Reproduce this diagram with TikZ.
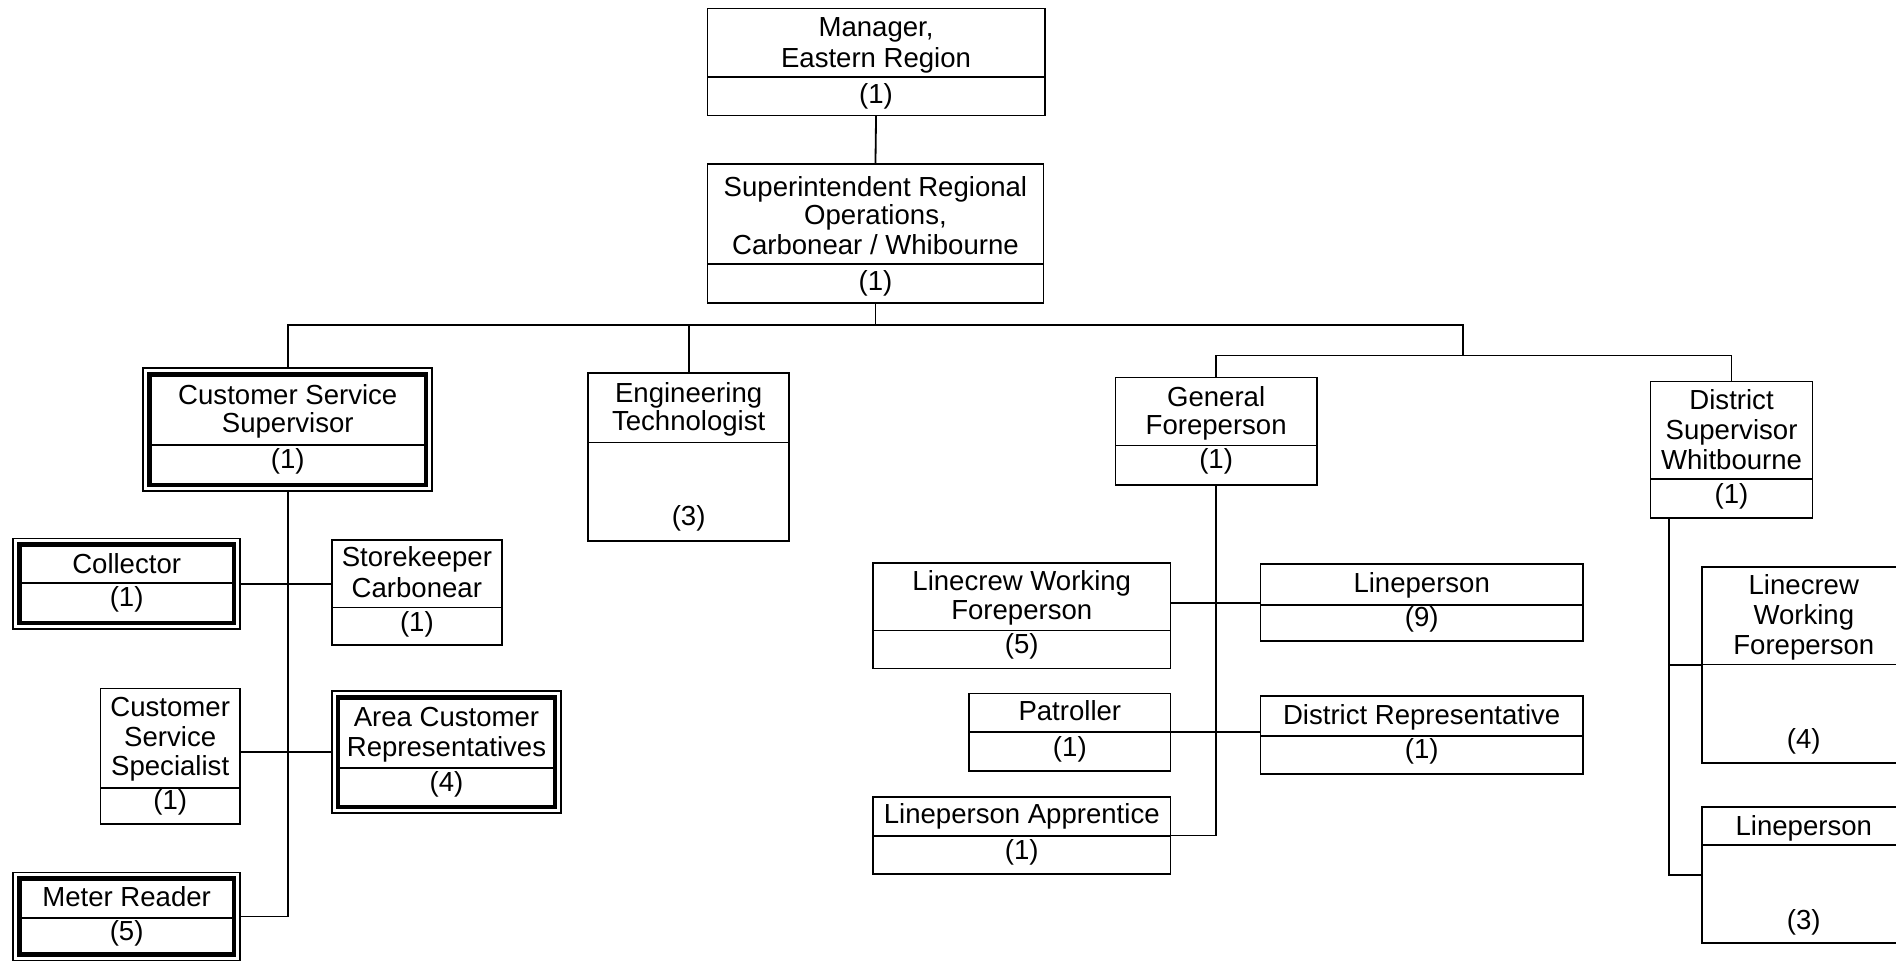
\documentclass[tikz,border=0pt]{standalone}
\usepackage{fontspec}
\setmainfont{Liberation Sans}
\newcounter{txc}
\tikzset{
  box/.style={draw, line width=1.4pt, rectangle, inner sep=0pt, outer sep=0pt},
  thickframe/.style={line width=3.6pt},
  divider/.style={line width=1.4pt},
  conn/.style={line width=1.5pt},
  txt/.style={anchor=base, inner sep=0pt, font=\fontsize{22.8}{24.3}\selectfont},
}
% name x1 y1 x2 y2 ydiv
\newcommand\obox[6]{%
  \pgfmathsetmacro\obW{#4-#2}\pgfmathsetmacro\obH{#5-#3}%
  \pgfmathsetmacro\obX{(#2+#4)/2}\pgfmathsetmacro\obY{(#3+#5)/2}%
  \node[box, minimum width=\obW pt, minimum height=\obH pt] (#1) at (\obX,\obY) {};
  \draw[divider] (#2,#6) -- (#4,#6);}
\newcommand\dbox[6]{%
  \pgfmathsetmacro\obW{#4-#2}\pgfmathsetmacro\obH{#5-#3}%
  \pgfmathsetmacro\obX{(#2+#4)/2}\pgfmathsetmacro\obY{(#3+#5)/2}%
  \node[box, minimum width=\obW pt, minimum height=\obH pt] (#1) at (\obX,\obY) {};
  \pgfmathsetmacro\obA{#2+5}\pgfmathsetmacro\obB{#3+5}%
  \pgfmathsetmacro\obC{#4-5}\pgfmathsetmacro\obD{#5-5}%
  \draw[thickframe] (\obA,\obB) rectangle (\obC,\obD);
  \draw[divider] (\obA,#6) -- (\obC,#6);}
\newcommand\tx[3]{\stepcounter{txc}\edef\txname{tx\arabic{txc}}\node[txt] (\txname) at (#1,#2) {#3};}
\begin{document}
\begin{tikzpicture}[x=1pt,y=-1pt]
\fill[white] (0,0) rectangle (1568,796);
\clip (0,0) rectangle (1568,796);
% boxes
\obox{mgr}{585}{6.9}{864}{95.6}{63.9}
\obox{sup}{585}{135.9}{863}{250.3}{218.6}
\dbox{css}{118.5}{304.6}{357.5}{406.3}{368}
\obox{eng}{486.5}{308.2}{652.5}{447.2}{366}
\obox{gf}{922.5}{312.3}{1089}{401.3}{368.5}
\obox{ds}{1365}{315.6}{1499}{428.3}{396}
\dbox{col}{11}{445.3}{198.5}{520.3}{482.4}
\obox{stk}{274.5}{446.7}{415}{533.3}{502.5}
\obox{csp}{83}{569.5}{198.5}{681.6}{651.4}
\dbox{acr}{274.5}{571.7}{464}{672.6}{634.9}
\dbox{mtr}{11}{721.5}{198.5}{794.3}{759.4}
\obox{lwf}{722}{465.4}{968}{552.8}{521.4}
\obox{lpn}{1042.5}{466.7}{1309}{530}{500.5}
\obox{pat}{801.5}{573.4}{968}{637.7}{605.3}
\obox{dr}{1042.5}{575.8}{1309}{639.9}{608.8}
\obox{lpa}{722}{659}{968}{722.9}{691.5}
\obox{lwfr}{1407.5}{468.7}{1576}{630.8}{549.5}
\obox{lpr}{1407.5}{667.4}{1576}{780}{699}
% texts
\tx{724.5}{30}{Manager,}
\tx{724.5}{56}{Eastern Region}
\tx{724.5}{85.5}{(1)}
\tx{724}{162.4}{Superintendent Regional}
\tx{724}{185.8}{Operations,}
\tx{724}{210.6}{Carbonear / Whibourne}
\tx{724}{240}{(1)}
\tx{238}{334.6}{Customer Service}
\tx{238}{358}{Supervisor}
\tx{238}{387.4}{(1)}
\tx{569.5}{333.2}{Engineering}
\tx{569.5}{356.1}{Technologist}
\tx{569.5}{434.5}{(3)}
\tx{1005.75}{336}{General}
\tx{1005.75}{359.4}{Foreperson}
\tx{1005.75}{387.4}{(1)}
\tx{1432}{338.8}{District}
\tx{1432}{363.6}{Supervisor}
\tx{1432}{388.4}{Whitbourne}
\tx{1432}{416.6}{(1)}
\tx{104.75}{474}{Collector}
\tx{104.75}{501.8}{(1)}
\tx{344.75}{468.4}{Storekeeper}
\tx{344.75}{494}{Carbonear}
\tx{344.75}{522.4}{(1)}
\tx{140.75}{592.9}{Customer}
\tx{140.75}{617.6}{Service}
\tx{140.75}{641.5}{Specialist}
\tx{140.75}{669.4}{(1)}
\tx{369.25}{601.2}{Area Customer}
\tx{369.25}{625.9}{Representatives}
\tx{369.25}{654.3}{(4)}
\tx{104.75}{750}{Meter Reader}
\tx{104.75}{778}{(5)}
\tx{845}{488.2}{Linecrew Working}
\tx{845}{512.4}{Foreperson}
\tx{845}{540.3}{(5)}
\tx{1175.75}{490.4}{Lineperson}
\tx{1175.75}{518.3}{(9)}
\tx{884.75}{596.2}{Patroller}
\tx{884.75}{625.4}{(1)}
\tx{1175.75}{599}{District Representative}
\tx{1175.75}{627.6}{(1)}
\tx{845}{681.4}{Lineperson Apprentice}
\tx{845}{710.6}{(1)}
\tx{1491.75}{491.8}{Linecrew}
\tx{1491.75}{516.5}{Working}
\tx{1491.75}{541.3}{Foreperson}
\tx{1491.75}{618.6}{(4)}
\tx{1491.75}{691}{Lineperson}
\tx{1491.75}{768.3}{(3)}
% connectors
\draw[conn] (mgr.south) -- (sup.north);
\draw[conn] (sup.south) -- ++(0,18.7) coordinate (bus);
\coordinate (bus2) at (1210,294);
\draw[conn] (bus) -| (css.north);
\draw[conn] (bus) -| (eng.north);
\draw[conn] (bus) -| (bus2);
\draw[conn] (bus2) -| (gf.north);
\draw[conn] (bus2) -| (ds.north);
\draw[conn] (css.south) |- (mtr.east);
\draw[conn] (col.east) -- (col.east -| stk.west);
\draw[conn] (acr.west -| csp.east) -- (acr.west);
\draw[conn] (gf.south) |- (lpa.east);
\draw[conn] (lpn.west -| lwf.east) -- (lpn.west);
\draw[conn] (pat.east) -- (pat.east -| dr.west);
\coordinate (dsx) at ([xshift=15pt]ds.south west);
\draw[conn] (dsx) |- (lpr.west);
\draw[conn] (dsx |- lwfr.west) -- (lwfr.west);
\end{tikzpicture}
\end{document}
